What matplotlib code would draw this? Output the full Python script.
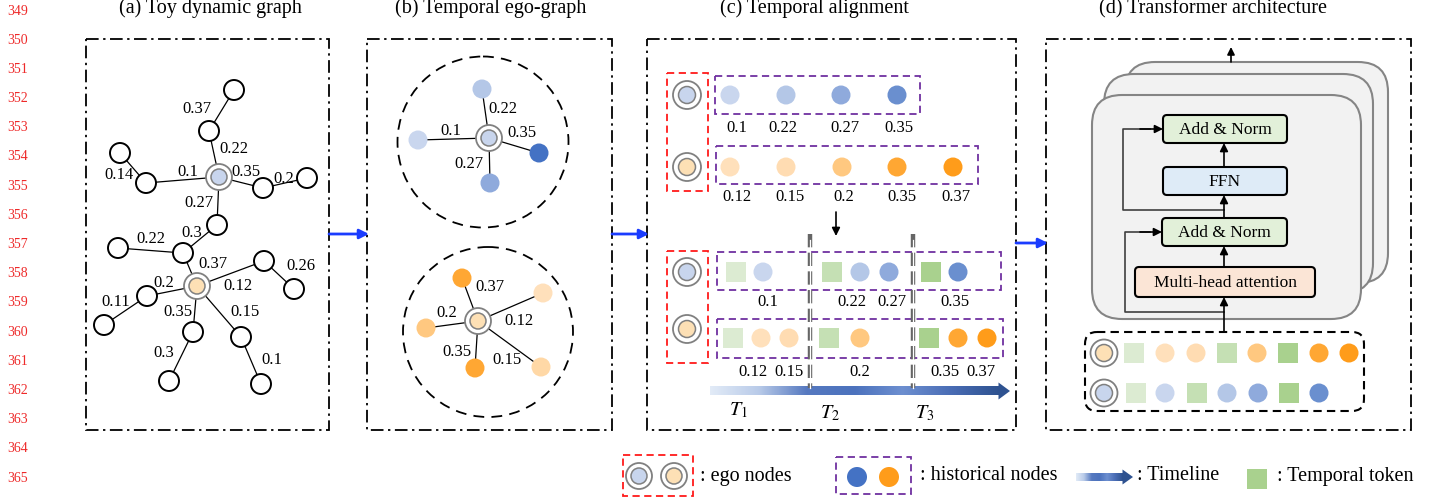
import matplotlib.pyplot as plt
import matplotlib.patches as mpatches
from matplotlib.colors import LinearSegmentedColormap
import numpy as np

plt.rcParams['font.family'] = ['Liberation Serif', 'DejaVu Serif']
plt.rcParams['mathtext.fontset'] = 'stix'

# ---------------- data ----------------
line_numbers = list(range(349, 366))
titles = ["(a) Toy dynamic graph", "(b) Temporal ego-graph",
          "(c) Temporal alignment", "(d) Transformer architecture"]

# (a) toy graph, node 0 = blue ego, node 1 = orange ego
a_edges = [(2, 3), (3, 0), (4, 5), (5, 0), (0, 6), (6, 7), (0, 8), (8, 10), (9, 10),
           (10, 1), (1, 11), (11, 12), (1, 13), (13, 14), (1, 15), (1, 16), (15, 17), (16, 18)]
a_weights = [0.37, 0.22, 0.14, 0.1, 0.35, 0.2, 0.27, 0.3, 0.22,
             0.37, 0.12, 0.26, 0.2, 0.11, 0.35, 0.15, 0.3, 0.1]

# (b) ego-graphs: interaction weights of each ego node
blue_ego_weights = [0.22, 0.1, 0.35, 0.27]
orange_ego_weights = [0.37, 0.12, 0.2, 0.35, 0.15]

# (c) sorted historical nodes and their time slots
blue_hist = [0.1, 0.22, 0.27, 0.35]
orange_hist = [0.12, 0.15, 0.2, 0.35, 0.37]
blue_slots = [[0.1], [0.22, 0.27], [0.35]]
orange_slots = [[0.12, 0.15], [0.2], [0.35, 0.37]]
slot_names = [r"$T_{\mathit{1}}$", r"$T_{\mathit{2}}$", r"$T_{\mathit{3}}$"]

# (d) transformer blocks
block_names = ["Add & Norm", "FFN", "Add & Norm", "Multi-head attention"]

legend_texts = [": ego nodes", ": historical nodes", ": Timeline", ": Temporal token"]

# ---------------- layout / styles ----------------
a_pos = [(219, 177), (197, 286), (234, 90), (209, 131), (120, 153), (146, 183), (263, 188),
         (307, 178), (217, 225), (118, 248), (183, 253), (264, 261), (294, 289), (147, 296),
         (104, 325), (193, 332), (241, 337), (169, 381), (261, 384)]
a_label_pos = [(197, 109), (234, 149), (119, 175), (188, 172), (246, 172), (284, 179),
               (199, 203), (192, 233), (151, 239), (213, 264), (238, 286), (301, 266),
               (164, 283), (116, 302), (178, 312), (245, 312), (164, 353), (272, 360)]

blue_c = {0.1: '#c9d6ee', 0.22: '#b4c7e7', 0.27: '#8faadc', 0.35: '#6a8fcf'}
orange_c = {0.12: '#ffe0bb', 0.15: '#ffdcb2', 0.2: '#ffc880', 0.35: '#ffa733', 0.37: '#ff9c1a'}
slot_c = ['#dcebd2', '#c5e0b4', '#a9d18e']
BLUE_EGO = '#c8d5ed'
ORANGE_EGO = '#fde0b5'

fig = plt.figure(figsize=(14.48, 5.01), dpi=100)
ax = fig.add_axes([0, 0, 1, 1])


def ego(x, y, fill, r_out=13, r_in=8):
    ax.add_patch(mpatches.Circle((x, y), r_out, fc='white', ec='#808080', lw=1.3, zorder=5))
    ax.add_patch(mpatches.Circle((x, y), r_in, fc=fill, ec='#808080', lw=1.1, zorder=6))


def dot(x, y, color, r=9.5):
    ax.add_patch(mpatches.Circle((x, y), r, fc=color, ec='none', zorder=5))


def token(x, y, color, s=20):
    ax.add_patch(mpatches.Rectangle((x - s / 2, y - s / 2), s, s, fc=color, ec='none', zorder=5))


def dbox(x0, y0, x1, y1, color, ls=(0, (4, 2.5)), lw=1.3):
    ax.add_patch(mpatches.Rectangle((x0, y0), x1 - x0, y1 - y0, fill=False, ec=color,
                                    lw=lw, ls=ls, zorder=4))


def label(x, y, s, size=12):
    ax.text(x, y, s, ha='center', va='center', fontsize=size, zorder=7)


grad_cmap = LinearSegmentedColormap.from_list(
    'tl', ['#e2ebf7', '#b9cbe9', '#5679c0', '#4c72bd', '#6d8fd0', '#4a6db5', '#2e5290'])


def grad_arrow(x0, x1, y, h, head_len, head_h):
    xe = x1 - head_len
    g = np.linspace(0, 1, 256).reshape(1, -1)
    ax.imshow(g, cmap=grad_cmap, extent=(x0, xe, y + h / 2, y - h / 2), aspect='auto', zorder=3)
    ax.add_patch(mpatches.Polygon([(xe - 0.5, y - head_h / 2), (x1, y), (xe - 0.5, y + head_h / 2)],
                                  closed=True, fc='#2e5290', ec='none', zorder=3))


def arrow(p0, p1, color='black', lw=1.2, ms=12):
    ax.annotate('', xy=p1, xytext=p0,
                arrowprops=dict(arrowstyle='-|>', color=color, lw=lw, mutation_scale=ms,
                                shrinkA=0, shrinkB=0), zorder=8)


# line numbers
for i, n in enumerate(line_numbers):
    ax.text(18, 11 + i * 29.2, str(n), ha='center', va='center', fontsize=10, color='#ee2a2a')

# titles
for tx, t in zip([210, 491, 814, 1213], titles):
    ax.text(tx, 13, t, ha='center', va='baseline', fontsize=14.5)

# panel frames (dash-dot)
panel_ls = (0, (7, 2.5, 1.3, 2.5))
for x0, x1 in [(86, 329), (367, 612), (647, 1016), (1046, 1411)]:
    dbox(x0, 39, x1, 430, 'black', ls=panel_ls, lw=1.3)

# blue arrows between panels
arrow((329, 234), (369, 234), color='#1a3cff', lw=2, ms=14)
arrow((612, 234), (649, 234), color='#1a3cff', lw=2, ms=14)
arrow((1016, 243), (1048, 243), color='#1a3cff', lw=2, ms=14)

# ---------- (a) toy dynamic graph ----------
for (i, j), w, (lx, ly) in zip(a_edges, a_weights, a_label_pos):
    ax.plot([a_pos[i][0], a_pos[j][0]], [a_pos[i][1], a_pos[j][1]], color='black', lw=0.9, zorder=2)
    label(lx, ly, f"{w:g}")
for k, (x, y) in enumerate(a_pos):
    if k == 0:
        ego(x, y, BLUE_EGO)
    elif k == 1:
        ego(x, y, ORANGE_EGO)
    else:
        ax.add_patch(mpatches.Circle((x, y), 10, fc='white', ec='black', lw=1.4, zorder=5))

# ---------- (b) temporal ego-graph ----------
ax.add_patch(mpatches.Circle((483, 142), 85.5, fill=False, ec='black', lw=1.3, ls=(0, (6, 4))))
ax.add_patch(mpatches.Circle((488, 332), 85, fill=False, ec='black', lw=1.3, ls=(0, (6, 4))))

b_blue_ego = (489, 138)
b_blue_nb = [(482, 89), (418, 140), (539, 153), (490, 183)]
b_blue_lab = [(503, 109), (451, 131), (522, 133), (469, 164)]
b_blue_col = {0.1: '#c9d6ee', 0.22: '#b4c7e7', 0.27: '#8faadc', 0.35: '#4472c4'}
for w, (x, y), (lx, ly) in zip(blue_ego_weights, b_blue_nb, b_blue_lab):
    ax.plot([b_blue_ego[0], x], [b_blue_ego[1], y], color='black', lw=0.9, zorder=2)
    dot(x, y, b_blue_col[w])
    label(lx, ly, f"{w:g}")
ego(*b_blue_ego, BLUE_EGO)

b_or_ego = (478, 321)
b_or_nb = [(462, 278), (543, 293), (426, 328), (475, 368), (541, 367)]
b_or_lab = [(490, 287), (519, 321), (447, 313), (457, 352), (507, 360)]
b_or_col = {0.12: '#ffe0bb', 0.15: '#ffd8a6', 0.2: '#ffc880', 0.35: '#ffa733', 0.37: '#ffa733'}
for w, (x, y), (lx, ly) in zip(orange_ego_weights, b_or_nb, b_or_lab):
    ax.plot([b_or_ego[0], x], [b_or_ego[1], y], color='black', lw=0.9, zorder=2)
    dot(x, y, b_or_col[w])
    label(lx, ly, f"{w:g}")
ego(*b_or_ego, ORANGE_EGO)

# ---------- (c) temporal alignment ----------
# sorted sequences
dbox(667, 73, 708, 191, '#ff1a1a')
ego(687, 95, BLUE_EGO, 14, 8.5)
ego(687, 167, ORANGE_EGO, 14, 8.5)
dbox(715, 76, 920, 114, '#7030a0')
dbox(716, 146, 978, 184, '#7030a0')
for w, x in zip(blue_hist, [730, 786, 841, 897]):
    dot(x, 95, blue_c[w])
for w, x in zip(blue_hist, [737, 783, 845, 899]):
    label(x, 128, f"{w:g}")
for w, x in zip(orange_hist, [730, 786, 842, 897, 953]):
    dot(x, 167, orange_c[w])
for w, x in zip(orange_hist, [737, 790, 844, 902, 956]):
    label(x, 197, f"{w:g}")

arrow((836, 212), (836, 236), lw=1.2, ms=12)

# aligned sequences with temporal tokens
dbox(667, 251, 708, 363, '#ff1a1a')
ego(687, 272, BLUE_EGO, 14, 8.5)
ego(687, 329, ORANGE_EGO, 14, 8.5)
dbox(717, 252, 1001, 290, '#7030a0')
dbox(717, 319, 1003, 358, '#7030a0')

blue_tok_x = [736, 832, 931]
blue_dot_x = [[763], [860, 889], [958]]
blue_lab_x = [[768], [852, 892], [955]]
orange_tok_x = [733, 829, 929]
orange_dot_x = [[761, 789], [860], [958, 987]]
orange_lab_x = [[753, 789], [860], [945, 981]]
for s in range(3):
    token(blue_tok_x[s], 272, slot_c[s])
    for w, x, lx in zip(blue_slots[s], blue_dot_x[s], blue_lab_x[s]):
        dot(x, 272, blue_c[w])
        label(lx, 302, f"{w:g}")
    token(orange_tok_x[s], 338, slot_c[s])
    for w, x, lx in zip(orange_slots[s], orange_dot_x[s], orange_lab_x[s]):
        dot(x, 338, orange_c[w])
        label(lx, 372, f"{w:g}")

# slot separators (double dashed grey lines)
for x in [810, 913]:
    ax.plot([x, x], [234, 388], color='#666666', lw=3.2, ls=(0, (3, 1.2)), zorder=6)
    ax.plot([x, x], [240, 388], color='white', lw=0.9, zorder=6)

grad_arrow(710, 1010, 391, 9, 11, 17)
for x, y, s in zip([738, 830, 925], [410, 413, 413], slot_names):
    ax.text(x, y, s, ha='center', va='center', fontsize=14.5)

# ---------- (d) transformer architecture ----------
for x0, y0, x1, y1 in [(1125, 62, 1388, 283), (1104, 74, 1373, 293), (1092, 95, 1361, 319)]:
    ax.add_patch(mpatches.FancyBboxPatch((x0, y0), x1 - x0, y1 - y0,
                                         boxstyle='round,pad=0,rounding_size=30',
                                         fc='#f2f2f2', ec='#858585', lw=1.5, zorder=1))

block_box = [(1163, 115, 1287, 143), (1163, 167, 1287, 195), (1162, 218, 1287, 246),
             (1135, 267, 1315, 297)]
block_col = ['#e2f0d9', '#deebf7', '#e2f0d9', '#fbe5d6']
for name, (x0, y0, x1, y1), c in zip(block_names, block_box, block_col):
    ax.add_patch(mpatches.FancyBboxPatch((x0, y0), x1 - x0, y1 - y0,
                                         boxstyle='round,pad=0,rounding_size=4',
                                         fc=c, ec='black', lw=1.5, zorder=3))
    ax.text((x0 + x1) / 2, (y0 + y1) / 2 + 1, name, ha='center', va='center', fontsize=12.5, zorder=4)

cx = 1224
arrow((cx, 332), (cx, 297))
arrow((cx, 267), (cx, 246))
arrow((cx, 218), (cx, 195))
arrow((cx, 167), (cx, 143))
ax.plot([cx, 1125, 1125, 1150], [312, 312, 232, 232], color='#404040', lw=1.2, zorder=2)
arrow((1140, 232), (1162, 232))
ax.plot([cx, 1123, 1123, 1150], [210, 210, 129, 129], color='#404040', lw=1.2, zorder=2)
arrow((1140, 129), (1163, 129))
arrow((1231, 62), (1231, 47), ms=11)

ax.add_patch(mpatches.FancyBboxPatch((1085, 332), 279, 79, boxstyle='round,pad=0,rounding_size=12',
                                     fill=False, ec='black', lw=1.5, ls=(0, (4, 2.5)), zorder=4))
ego(1104, 353, ORANGE_EGO, 13.5, 8.5)
ego(1104, 393, BLUE_EGO, 13.5, 8.5)
d_or_x = [1134, 1165, 1196, 1227, 1257, 1288, 1319, 1349]
d_or_seq = ['T1', 0.12, 0.15, 'T2', 0.2, 'T3', 0.35, 0.37]
d_bl_x = [1136, 1165, 1197, 1227, 1258, 1289, 1319]
d_bl_seq = ['T1', 0.1, 'T2', 0.22, 0.27, 'T3', 0.35]
for x, v in zip(d_or_x, d_or_seq):
    if isinstance(v, str):
        token(x, 353, slot_c[int(v[1]) - 1])
    else:
        dot(x, 353, orange_c[v])
for x, v in zip(d_bl_x, d_bl_seq):
    if isinstance(v, str):
        token(x, 393, slot_c[int(v[1]) - 1])
    else:
        dot(x, 393, blue_c[v])

# ---------- legend ----------
dbox(623, 455, 693, 496, '#ff1a1a')
ego(639, 476, BLUE_EGO, 13, 8)
ego(674, 476, ORANGE_EGO, 13, 8)
ax.text(700, 476, legend_texts[0], ha='left', va='center', fontsize=14.5)
dbox(836, 457, 911, 494, '#7030a0')
dot(857, 477, '#4472c4', 10)
dot(889, 477, '#ff9c1a', 10)
ax.text(920, 476, legend_texts[1], ha='left', va='center', fontsize=14.5)
grad_arrow(1076, 1133, 477, 8, 10, 15)
ax.text(1137, 476, legend_texts[2], ha='left', va='center', fontsize=14.5)
token(1257, 479, slot_c[2])
ax.text(1277, 476, legend_texts[3], ha='left', va='center', fontsize=14.5)

ax.set_xlim(0, 1448)
ax.set_ylim(501, 0)
ax.axis('off')
fig.savefig('out.png', dpi=100)
